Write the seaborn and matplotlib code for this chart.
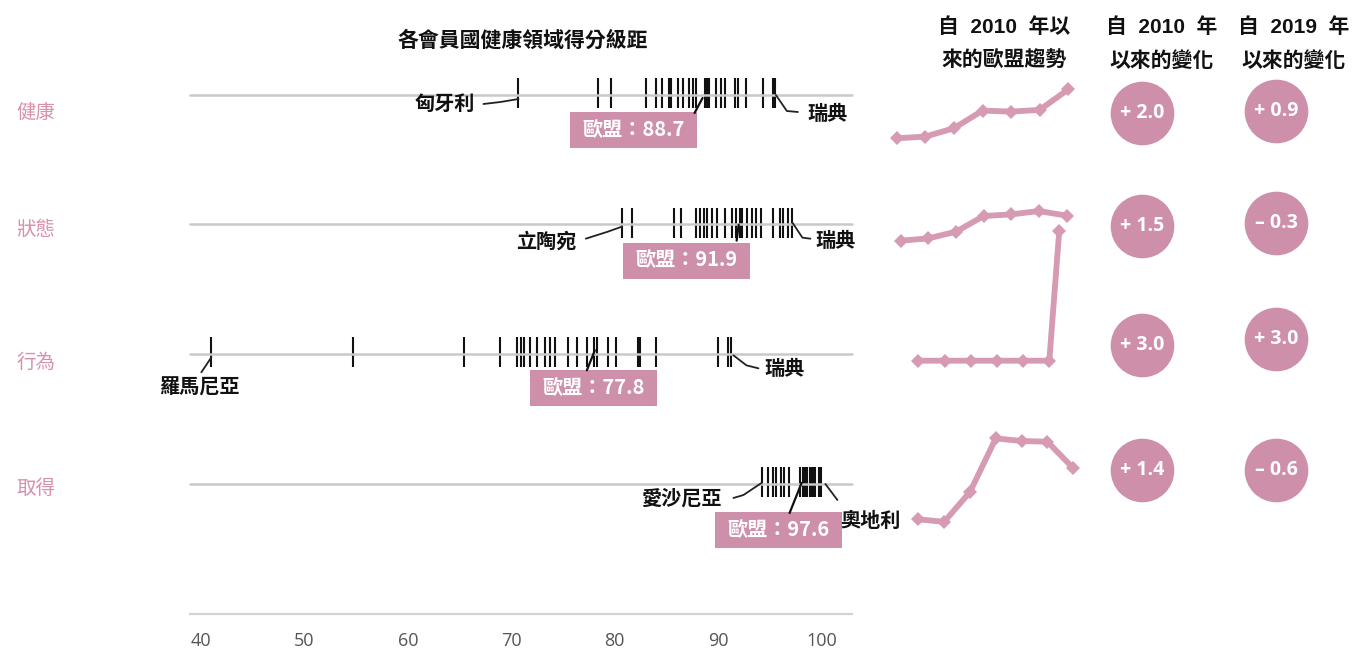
import numpy as np
import pandas as pd
import matplotlib
matplotlib.use("Agg")
import matplotlib.pyplot as plt
from matplotlib.patches import Rectangle
import seaborn as sns

# ---------------- data ----------------
categories = ["健康", "狀態", "行為", "取得"]
health_scores = [70.7, 78.4, 79.7, 83.0, 84.0, 84.6, 85.3, 85.5, 86.1, 86.6, 87.2, 87.6, 87.9,
                 88.7, 88.9, 89.1, 89.8, 90.3, 90.7, 91.6, 91.9, 92.7, 94.4, 95.3, 95.5]
status_scores = [80.7, 81.7, 85.7, 86.4, 87.9, 88.3, 88.6, 88.9, 89.4, 89.9, 90.7, 91.4, 91.7,
                 92.1, 92.3, 92.8, 93.3, 93.7, 94.2, 95.3, 96.0, 96.3, 96.8, 97.2]
behaviour_scores = [41.0, 54.7, 65.4, 68.9, 70.6, 70.9, 71.2, 71.8, 72.5, 73.3, 73.8, 74.2, 75.5,
                    76.4, 77.3, 78.0, 78.3, 79.4, 80.1, 82.3, 82.5, 84.0, 90.0, 91.0, 91.3]
access_scores = [94.3, 94.8, 95.3, 95.6, 96.1, 96.4, 96.9, 97.9, 98.2, 98.4, 98.6, 98.9, 99.1,
                 99.3, 99.4, 99.8, 100.0]
eu_scores = [88.7, 91.9, 77.8, 97.6]
min_countries = ["匈牙利", "立陶宛", "羅馬尼亞", "愛沙尼亞"]
max_countries = ["瑞典", "瑞典", "瑞典", "奧地利"]

trend_health = [86.7, 86.77, 87.11, 87.83, 87.79, 87.86, 88.7]
trend_status = [90.4, 90.54, 90.94, 91.88, 91.98, 92.18, 91.9]
trend_behaviour = [74.8, 74.8, 74.8, 74.8, 74.8, 74.8, 77.8]
trend_access = [96.2, 96.13, 96.95, 98.42, 98.35, 98.33, 97.6]
trend_steps = [[0, 1, 2, 3, 4, 5, 6], [0, 1, 2, 3, 4, 5, 6],
               [0, 1, 2, 3, 4, 5, 5.38], [0, 1, 2, 3, 4, 5, 6]]

change_2010 = [2.0, 1.5, 3.0, 1.4]
change_2019 = [0.9, -0.3, 3.0, -0.6]
x_ticks = [40, 50, 60, 70, 80, 90, 100]

title = "各會員國健康領域得分級距"
header_trend = ["自  2010  年以", "來的歐盟趨勢"]
header_2010 = ["自  2010  年", "以來的變化"]
header_2019 = ["自  2019  年", "以來的變化"]

# ---------------- style ----------------
sns.set_theme(style="white")
CJK = ["Noto Sans CJK TC", "DejaVu Sans"]
HEAD = ["Liberation Sans", "Noto Sans CJK TC", "DejaVu Sans"]
plt.rcParams["font.family"] = CJK
PINK = "#cd8faa"
LINE_PINK = "#d69ab3"
LABEL_PINK = "#d891ad"

W, H = 1352, 650
fig = plt.figure(figsize=(W / 100, H / 100), dpi=100)
fig.patch.set_facecolor("white")


def px_axes(x0, y0, x1, y1):
    a = fig.add_axes([x0 / W, 1 - y1 / H, (x1 - x0) / W, (y1 - y0) / H])
    a.set_facecolor("none")
    return a


def lims(p0, p1, v0, v1, P0, P1):
    s = (p1 - p0) / (v1 - v0)
    return (v0 + (P0 - p0) / s, v0 + (P1 - p0) / s)


# ---------------- main strip axes ----------------
ax = px_axes(190, 40, 852, 614)
ax.set_xlim(*lims(201, 718, 40, 90, 190, 852))
ax.set_ylim(*lims(93, 482, 0, 3, 614, 40))

all_scores = [health_scores, status_scores, behaviour_scores, access_scores]
rows = []
for i, sc in enumerate(all_scores):
    for s in sc:
        rows.append((categories[i], i, s))
df = pd.DataFrame(rows, columns=["cat", "row", "score"])

sns.scatterplot(data=df, x="score", y="row", marker="|", s=470, color="#111111",
                linewidth=1.5, ax=ax, legend=False, zorder=3)

for sp in ["top", "left", "right"]:
    ax.spines[sp].set_visible(False)
ax.spines["bottom"].set_color("#d2d2d2")
ax.spines["bottom"].set_linewidth(1.6)
ax.set_yticks([])
ax.set_xticks(x_ticks)
ax.set_xticklabels([str(t) for t in x_ticks], family=["Open Sans", "DejaVu Sans"])
ax.tick_params(axis="x", length=0, pad=13, labelsize=13, labelcolor="#555555")
ax.set_xlabel("")
ax.set_ylabel("")

# ---------------- overlay for annotations ----------------
ov = px_axes(0, 0, W, H)
ov.set_xlim(0, W)
ov.set_ylim(H, 0)
ov.axis("off")

baseline_y = [95, 224, 354, 484]
for y in baseline_y:
    ov.plot([190, 852], [y, y], color="#c9c9c9", lw=1.8, zorder=1)


def to_px(x, y):
    d = ax.transData.transform((x, y))
    return d[0], H - d[1]


min_leader = [[(0, 6), (-18, 9), (-35, 11)], [(0, 4), (-14, 9), (-36, 16)],
              [(0, 5), (-10, 20)], [(-1, 1), (-19, 13), (-29, 16)]]
min_text = [(-43, 10, "right"), (-45, 18, "right"), (-12, 35, "center"), (-41, 16, "right")]
max_leader = [[(1, 2), (12, 18), (23, 19)], [(0, 0), (10, 15), (18, 16)],
              [(2, 3), (15, 13), (27, 16)], [(4, 2), (16, 18)]]
max_text = [(32, 20, "left"), (23, 18, "left"), (33, 16, "left"), (19, 38, "left")]
eu_leader = [[(-2, 5), (-10, 20)], [(1, 2), (-1, 18)], [(3, -2), (-5, 18)], [(5, 1), (-7, 31)]]
eu_box = [(-71, 37), (-51, 38), (2, 36), (-18, 48)]

for i, sc in enumerate(all_scores):
    # min
    mx, my = to_px(min(sc), i)
    pts = np.array(min_leader[i], dtype=float)
    ov.plot(mx + pts[:, 0], my + pts[:, 1], color="#222222", lw=1.3, zorder=5)
    dx, dy, ha = min_text[i]
    ov.text(mx + dx, my + dy, min_countries[i], ha=ha, va="center", fontsize=14.5,
            fontweight="bold", color="#111111", zorder=6)
    # max
    Mx, My = to_px(max(sc), i)
    pts = np.array(max_leader[i], dtype=float)
    ov.plot(Mx + pts[:, 0], My + pts[:, 1], color="#222222", lw=1.3, zorder=5)
    dx, dy, ha = max_text[i]
    ov.text(Mx + dx, My + dy, max_countries[i], ha=ha, va="center", fontsize=14.5,
            fontweight="bold", color="#111111", zorder=6)
    # EU
    ex, ey = to_px(eu_scores[i], i)
    pts = np.array(eu_leader[i], dtype=float)
    ov.plot(ex + pts[:, 0], ey + pts[:, 1], color="#111111", lw=1.6, zorder=5)
    bx, by = ex + eu_box[i][0], ey + eu_box[i][1]
    ov.add_patch(Rectangle((bx - 63.5, by - 18), 127, 36, facecolor=PINK,
                           edgecolor="none", zorder=4))
    ov.text(bx, by, f"歐盟：{eu_scores[i]:.1f}", ha="center", va="center",
            fontsize=14.5, fontweight="bold", color="white", zorder=6)

# row labels
row_label_y = [112, 229, 362, 489]
for lab, y in zip(categories, row_label_y):
    ov.text(36, y, lab, ha="center", va="center", fontsize=14, color=LABEL_PINK)

# title and headers
ov.text(523, 40, title, ha="center", va="center", fontsize=15, fontweight="bold",
        color="#111111")
for cx, lines in [(1004, header_trend), (1162, header_2010), (1294, header_2019)]:
    ov.text(cx, 27, lines[0], ha="center", va="center", fontsize=15,
            fontweight="bold", color="#111111", family=HEAD)
    ov.text(cx, 61, lines[1], ha="center", va="center", fontsize=15,
            fontweight="bold", color="#111111", family=HEAD)

# ---------------- sparklines ----------------
trends = [trend_health, trend_status, trend_behaviour, trend_access]
spark_anchor = [  # (x px of step 0, x px of step k, k, y px first, y px last)
    (896.7, 1068.3, 6, 138.3, 89.3),
    (900.7, 1066.7, 6, 240.7, 215.7),
    (918.3, 1049.3, 5, 360.7, 230.7),
    (918.3, 1073.3, 6, 519.3, 468.3),
]
spark_box = [(60, 170), (180, 280), (210, 390), (410, 550)]
for i, tr in enumerate(trends):
    x0, xk, k, yf, yl = spark_anchor[i]
    top, bot = spark_box[i]
    sax = px_axes(880, top, 1095, bot)
    sax.set_xlim(*lims(x0, xk, 0, k, 880, 1095))
    sax.set_ylim(*lims(yf, yl, tr[0], tr[-1], bot, top))
    sdf = pd.DataFrame({"step": trend_steps[i], "value": tr})
    sns.lineplot(data=sdf, x="step", y="value", ax=sax, color=LINE_PINK, linewidth=4.2,
                 marker="D", markersize=7, markeredgewidth=0, sort=False,
                 estimator=None)
    sax.axis("off")

# ---------------- change circles ----------------
circ_x = [1142, 1276]
circ_y = [[113, 226, 345, 470], [111, 223, 339, 470]]
for c, vals in enumerate([change_2010, change_2019]):
    cdf = pd.DataFrame({"x": [circ_x[c]] * 4, "y": circ_y[c], "v": vals})
    sns.scatterplot(data=cdf, x="x", y="y", s=2100, color=PINK, linewidth=0,
                    ax=ov, legend=False, zorder=3)
    for x, y, v in zip(cdf.x, cdf.y, cdf.v):
        sign = "+" if v >= 0 else "–"
        ov.text(x, y, f"{sign} {abs(v):.1f}", ha="center", va="center", fontsize=14,
                fontweight="bold", color="white", family=["Open Sans", "DejaVu Sans"],
                zorder=6)
ov.set_xlim(0, W)
ov.set_ylim(H, 0)
ov.set_xlabel("")
ov.set_ylabel("")

fig.savefig("out.png", dpi=100, facecolor="white")
